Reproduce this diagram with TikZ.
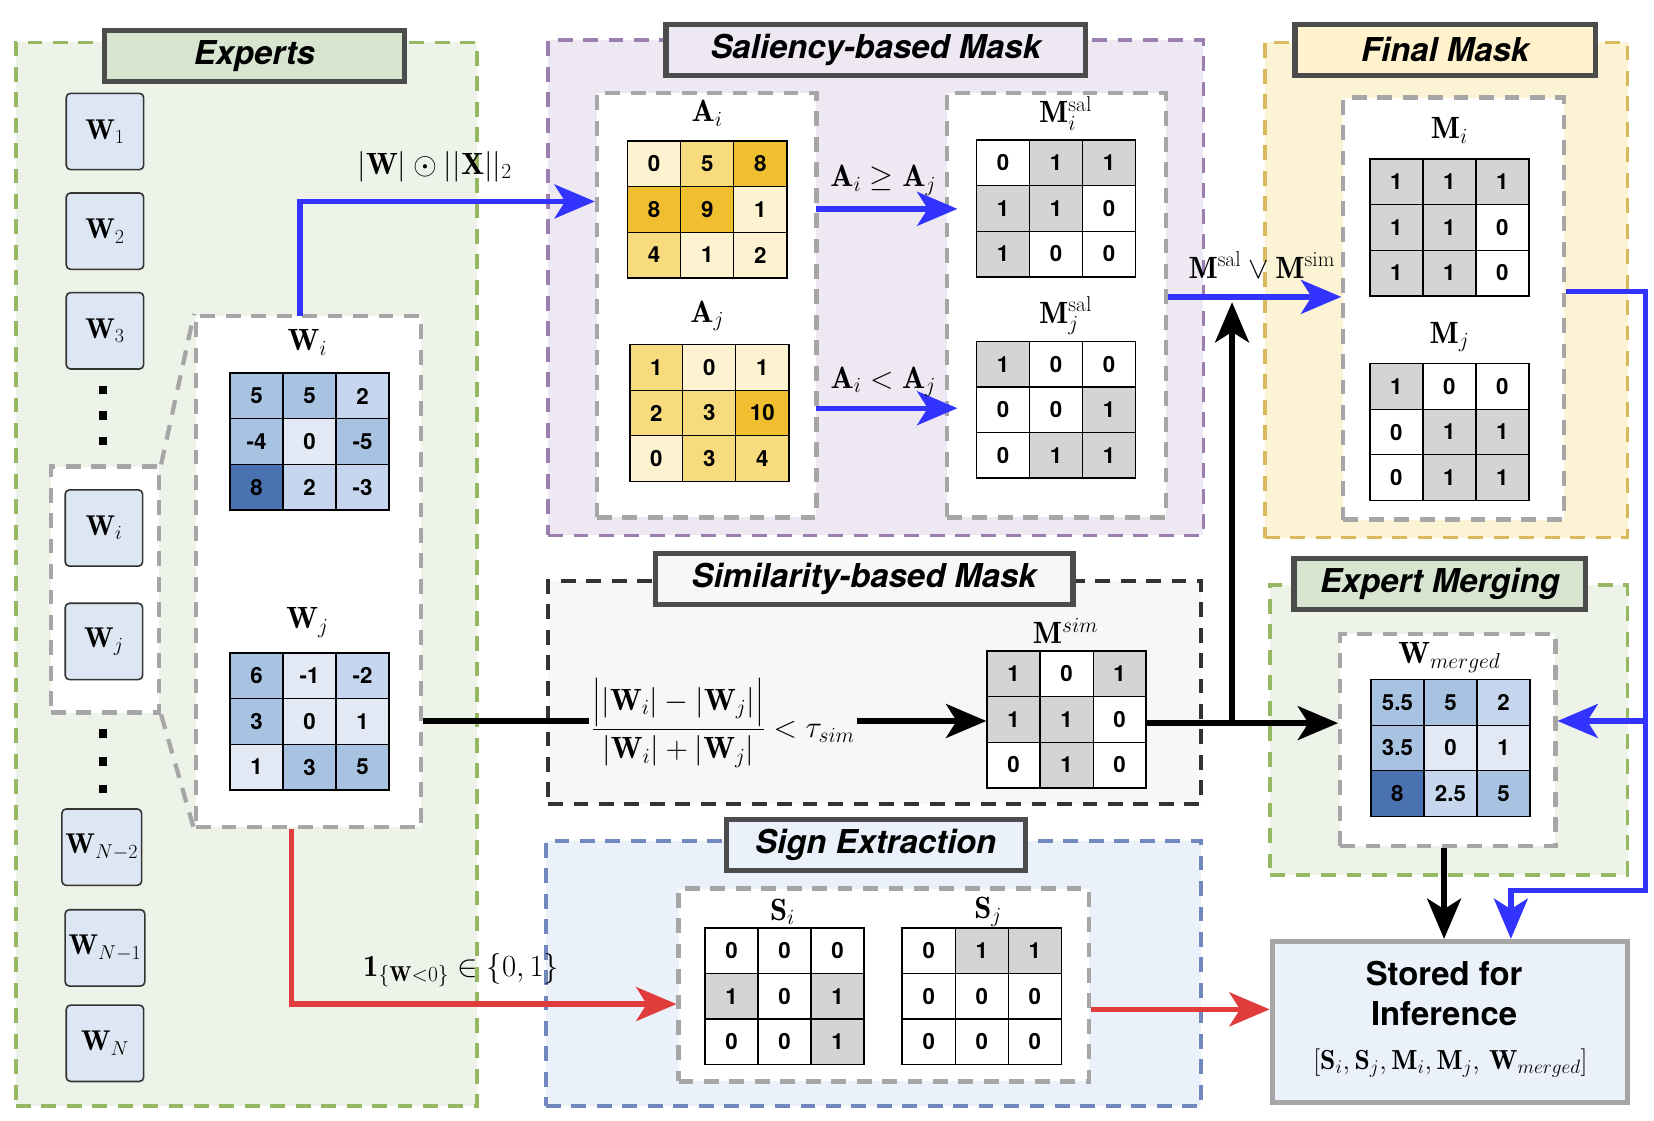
\RequirePackage{fix-cm}
\documentclass[tikz,border=0pt]{standalone}
\usepackage{amsmath}
\usepackage{fontspec}
\newfontfamily\hel{TeX Gyre Heros}
\usetikzlibrary{arrows.meta,fit}
\definecolor{c1}{HTML}{E2E9F5}\definecolor{c2}{HTML}{C5D6EE}\definecolor{c3}{HTML}{A8C2E2}\definecolor{c4}{HTML}{4A72B0}
\definecolor{y1}{HTML}{FDF3D0}\definecolor{y2}{HTML}{F7DB7D}\definecolor{y3}{HTML}{EFBF30}
\definecolor{gr}{HTML}{D4D4D4}\definecolor{wh}{HTML}{FFFFFF}
\definecolor{bl}{HTML}{3333FF}\definecolor{rd}{HTML}{E03C3C}
\definecolor{gfill}{HTML}{EDF3E8}\definecolor{gline}{HTML}{97B862}\definecolor{gtitle}{HTML}{D6E4D0}
\definecolor{pfill}{HTML}{EEE8F3}\definecolor{pline}{HTML}{9B7FB0}
\definecolor{yfill}{HTML}{FCF3D4}\definecolor{yline}{HTML}{D9B95B}\definecolor{ytitle}{HTML}{FFF2CC}
\definecolor{bfill}{HTML}{EBF1FB}\definecolor{bline}{HTML}{7088BE}
\definecolor{ebox}{HTML}{DDE6F3}
\tikzset{
 cellbox/.style={draw,line width=1.2pt,minimum width=50pt,minimum height=43pt,inner sep=0pt,font=\hel\bfseries\fontsize{21}{21}\selectfont},
 region/.style={inner sep=0pt,dash pattern=on 14pt off 10pt,line width=3.5pt},
 inbox/.style={inner sep=0pt,draw=black!35,fill=white,dash pattern=on 14pt off 10pt,line width=4pt},
 titlebox/.style={draw=black!70,line width=5pt,minimum height=48pt,inner sep=0pt,font=\hel\bfseries\itshape\fontsize{31}{31}\selectfont},
 expbox/.style={draw=black!80,line width=1.5pt,rounded corners=4pt,fill=ebox,minimum width=73pt,minimum height=72pt,font=\fontsize{27}{27}\selectfont},
 lab/.style={font=\fontsize{29}{29}\selectfont},
 arr/.style={line width=5pt,-{Stealth[length=38pt,width=32pt,inset=10pt]}},
 dot/.style={fill=black,minimum size=8pt,inner sep=0pt},
}
\newcommand\gridm[4]{%
 \foreach \v/\c [count=\k from 0] in {#4}{%
  \pgfmathtruncatemacro\col{mod(\k,3)}\pgfmathtruncatemacro\row{int(\k/3)}%
  \node[cellbox,fill=\c] (#1-\k) at ({#2+25+50*\col},{#3+21.5+43*\row}) {\v};}%
 \node[draw,line width=1.5pt,minimum width=150pt,minimum height=129pt,inner sep=0pt] (#1) at ({#2+75},{#3+64.5}) {};}
\begin{document}
\begin{tikzpicture}[x=1pt,y=-1pt]
\useasboundingbox (0,0) rectangle (1560,1057);
% regions
\node[region,draw=gline,fill=gfill,fit={(15,40) (450,1043)}] (experts) {};
\node[region,draw=pline,fill=pfill,fit={(517,38) (1135,505)}] (sal) {};
\node[region,draw=yline,fill=yfill,fit={(1193,40) (1535,507)}] (final) {};
\node[region,draw=black!80,fill=black!3,fit={(517,548) (1133,758)}] (sim) {};
\node[region,draw=bline,fill=bfill,fit={(515,793) (1133,1043)}] (sign) {};
\node[region,draw=gline,fill=gfill,fit={(1198,552) (1535,825)}] (merge) {};
% titles
\node[titlebox,fill=gtitle,minimum width=283pt] (t1) at (240,53) {Experts};
\node[titlebox,fill=pfill,minimum width=396pt] (t2) at (826,47) {Saliency-based Mask};
\node[titlebox,fill=ytitle,minimum width=283pt] (t3) at (1363,47) {Final Mask};
\node[titlebox,fill=black!3,minimum width=394pt] (t4) at (815,546) {Similarity-based Mask};
\node[titlebox,fill=bfill,minimum width=282pt] (t5) at (826,797) {Sign Extraction};
\node[titlebox,fill=gtitle,minimum width=275pt] (t6) at (1358,551) {Expert Merging};
% experts column
\node[expbox] (w1) at (99,124) {$\mathbf{W}_1$};
\node[expbox] (w2) at (99,218) {$\mathbf{W}_2$};
\node[expbox] (w3) at (99,312) {$\mathbf{W}_3$};
\foreach \yy [count=\n] in {368,392,416}{\node[dot] (da\n) at (97,\yy) {};}
\node[inbox,fit={(48,440) (150,672)}] (pair) {};
\node[expbox] (wi) at (98,498) {$\mathbf{W}_i$};
\node[expbox] (wj) at (98,605) {$\mathbf{W}_j$};
\foreach \yy [count=\n] in {692,718,744}{\node[dot] (db\n) at (97,\yy) {};}
\node[expbox] (wn2) at (96,799) {$\mathbf{W}_{N-2}$};
\node[expbox] (wn1) at (99,894) {$\mathbf{W}_{N-1}$};
\node[expbox] (wn) at (99,984) {$\mathbf{W}_N$};
\node[inbox,fit={(185,298) (397,780)}] (wbox) {};
\draw[black!35,line width=4pt,dash pattern=on 14pt off 10pt] (pair.north east) -- (wbox.north west);
\draw[black!35,line width=4pt,dash pattern=on 14pt off 10pt] (pair.south east) -- (wbox.south west);
\node[lab] (lwi) at (290,323) {$\mathbf{W}_i$};
\gridm{mwi}{217}{352}{5/c3,5/c3,2/c2,-4/c3,0/c1,-5/c3,8/c4,2/c2,-3/c2}
\node[lab] (lwj) at (290,587) {$\mathbf{W}_j$};
\gridm{mwj}{217}{616}{6/c3,-1/c1,-2/c2,3/c3,0/c1,1/c1,1/c1,3/c3,5/c3}
% saliency
\node[inbox,fit={(563,88) (770,488)}] (abox) {};
\node[inbox,fit={(893,88) (1100,488)}] (mbox) {};
\node[lab] (lai) at (667,107) {$\mathbf{A}_i$};
\gridm{mai}{592}{133}{0/y1,5/y2,8/y3,8/y3,9/y3,1/y1,4/y2,1/y1,2/y1}
\node[lab] (laj) at (667,298) {$\mathbf{A}_j$};
\gridm{maj}{594}{325}{1/y2,0/y1,1/y1,2/y2,3/y2,10/y3,0/y1,3/y2,4/y2}
\node[lab] (lmsi) at (1005,107) {$\mathbf{M}_i^{\mathrm{sal}}$};
\gridm{msi}{921}{132}{0/wh,1/gr,1/gr,1/gr,1/gr,0/wh,1/gr,0/wh,0/wh}
\node[lab] (lmsj) at (1005,298) {$\mathbf{M}_j^{\mathrm{sal}}$};
\gridm{msj}{921}{322}{1/gr,0/wh,0/wh,0/wh,0/wh,1/gr,0/wh,1/gr,1/gr}
\coordinate (a1s) at (770,197); \coordinate (a1e) at (903,197);
\coordinate (a2s) at (770,385); \coordinate (a2e) at (903,385);
\draw[arr,bl] (a1s) -- (a1e);
\draw[arr,bl] (a2s) -- (a2e);
\node[lab] (lge) at (833,170) {$\mathbf{A}_i\geq\mathbf{A}_j$};
\node[lab] (llt) at (833,360) {$\mathbf{A}_i<\mathbf{A}_j$};
% final mask
\node[inbox,fit={(1267,92) (1475,490)}] (fbox) {};
\node[lab] (lmi) at (1367,123) {$\mathbf{M}_i$};
\gridm{mmi}{1292}{150}{1/gr,1/gr,1/gr,1/gr,1/gr,0/wh,1/gr,1/gr,0/wh}
\node[lab] (lmj) at (1367,318) {$\mathbf{M}_j$};
\gridm{mmj}{1292}{343}{1/gr,0/wh,0/wh,0/wh,1/gr,1/gr,0/wh,1/gr,1/gr}
% similarity
\node[lab,inner sep=2pt] (frac) at (682,682) {$\dfrac{\big||\mathbf{W}_i|-|\mathbf{W}_j|\big|}{|\mathbf{W}_i|+|\mathbf{W}_j|}<\tau_{sim}$};
\node[lab] (lmsim) at (1005,595) {$\mathbf{M}^{sim}$};
\gridm{msim}{931}{614}{1/gr,0/wh,1/gr,1/gr,1/gr,0/wh,0/wh,1/gr,0/wh}
% merging
\node[inbox,fit={(1264,598) (1467,798)}] (mgbox) {};
\node[lab] (lwm) at (1367,620) {$\mathbf{W}_{merged}$};
\gridm{mwm}{1293}{641}{5.5/c3,5/c3,2/c2,3.5/c3,0/c1,1/c1,8/c4,2.5/c2,5/c3}
% sign
\node[inbox,fit={(640,838) (1027,1020)}] (sbox) {};
\node[lab] (lsi) at (738,860) {$\mathbf{S}_i$};
\gridm{msgi}{665}{875}{0/wh,0/wh,0/wh,1/gr,0/wh,1/gr,0/wh,0/wh,1/gr}
\node[lab] (lsj) at (932,860) {$\mathbf{S}_j$};
\gridm{msgj}{851}{875}{0/wh,1/gr,1/gr,0/wh,0/wh,0/wh,0/wh,0/wh,0/wh}
% stored
\node[draw=black!35,line width=5pt,fill=bfill,fit={(1200,888) (1535,1040)},inner sep=0pt] (store) {};
\node[font=\hel\bfseries\fontsize{31}{31}\selectfont,align=center] (stxt) at (1362,937) {Stored for\\[6pt]Inference};
\node[lab,font=\fontsize{26}{26}\selectfont] (slist) at (1368,1003) {$[\mathbf{S}_i,\mathbf{S}_j,\mathbf{M}_i,\mathbf{M}_j,\,\mathbf{W}_{merged}]$};
% connectors
\coordinate (bt) at (283,298);
\draw[arr,bl] (bt) |- (abox.west |- 0,190);
\node[lab] (lx) at (410,157) {$|\mathbf{W}|\odot||\mathbf{X}||_2$};
\draw[line width=5pt] (wbox.east |- 0,680) -- (frac.west |- 0,680);
\draw[arr] (frac.east |- 0,680) -- (msim.west |- 0,680);
\coordinate (jn) at (1162,682);
\draw[line width=5pt] (msim.east |- 0,682) -- (jn);
\draw[arr] (jn) -- (mgbox.west |- 0,682);
\draw[arr] (jn) -- (1162,285);
\draw[arr,bl] (mbox.east |- 0,280) -- (fbox.west |- 0,280);
\node[lab] (lor) at (1190,250) {$\mathbf{M}^{\mathrm{sal}}\vee\mathbf{M}^{\mathrm{sim}}$};
\coordinate (r1) at (1552,275); \coordinate (r2) at (1552,840); \coordinate (r3) at (1425,840);
\draw[arr,bl] (fbox.east |- 0,275) -- (r1) -- (r2) -- (r3) -- (store.north -| r3);
\draw[arr,bl] (1552,680) -- (mgbox.east |- 0,680);
\draw[arr] (mgbox.south -| 1362,0) -- (store.north -| 1362,0);
\coordinate (rd1) at (275,947);
\draw[arr,rd] (wbox.south -| rd1) -- (rd1) -- (sbox.west |- rd1);
\node[lab] (lind) at (435,915) {$\mathbf{1}_{\{\mathbf{W}<0\}}\in\{0,1\}$};
\draw[arr,rd] (sbox.east |- 0,952) -- (store.west |- 0,952);
\end{tikzpicture}
\end{document}
